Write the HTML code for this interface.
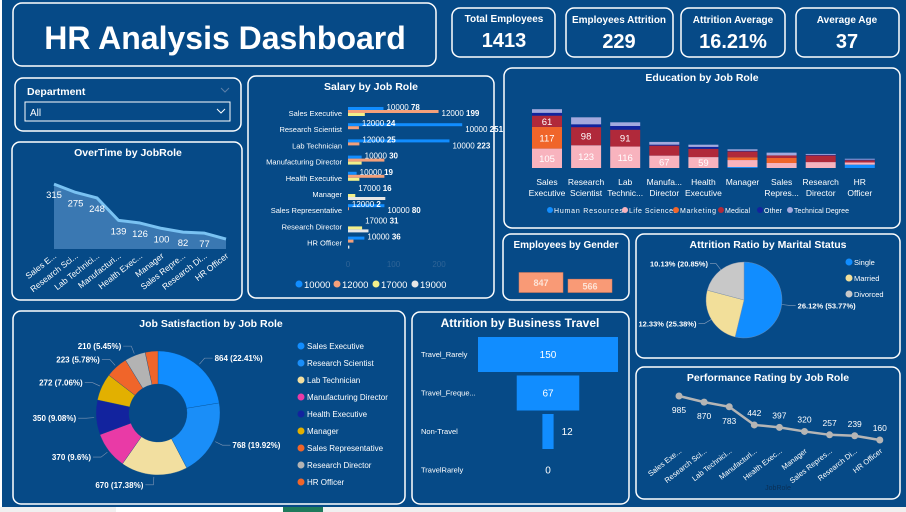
<!DOCTYPE html>
<html><head><meta charset="utf-8"><style>
html,body{margin:0;padding:0;background:#fff;}
svg{display:block;}
text{font-family:"Liberation Sans",sans-serif;fill:#fff;}
</style></head><body>
<svg id="s" width="906" height="512" viewBox="0 0 906 512">
<rect x="2" y="0" width="904" height="507" fill="#064a87"/>
<rect x="0" y="507" width="116" height="5" fill="#f0f0f0"/>
<rect x="117" y="507" width="166" height="5" fill="#ffffff"/>
<rect x="283" y="507" width="40" height="5" fill="#1f7a5c"/>
<rect x="323" y="507" width="583" height="5" fill="#f0f0f0"/>
<g fill="none" stroke="#fff" stroke-width="1.5">
<rect x="13" y="3" width="423" height="63" rx="9"/>
<rect x="452" y="8" width="103" height="49" rx="8"/>
<rect x="566" y="8" width="107" height="49" rx="8"/>
<rect x="681" y="8" width="104" height="49" rx="8"/>
<rect x="796" y="8" width="103" height="49" rx="8"/>
<rect x="15" y="78" width="226" height="53" rx="8"/>
<rect x="12" y="142" width="230" height="158" rx="8"/>
<rect x="248" y="76" width="246" height="222" rx="8"/>
<rect x="504" y="68" width="396" height="160" rx="8"/>
<rect x="503" y="234" width="126" height="66" rx="8"/>
<rect x="636" y="234" width="264" height="124" rx="8"/>
<rect x="13" y="311" width="392" height="193" rx="8"/>
<rect x="412" y="312" width="217" height="192" rx="8"/>
<rect x="636" y="367" width="264" height="132" rx="8"/>
</g>
<text x="225" y="49" font-size="32" font-weight="bold" text-anchor="middle">HR Analysis Dashboard</text>
<g font-weight="bold" text-anchor="middle">
<text x="504" y="22" font-size="10">Total Employees</text>
<text x="504" y="47" font-size="20">1413</text>
<text x="619" y="23" font-size="10">Employees Attrition</text>
<text x="619" y="48" font-size="20">229</text>
<text x="733" y="23" font-size="10">Attrition Average</text>
<text x="733" y="48" font-size="20">16.21%</text>
<text x="847" y="23" font-size="10">Average Age</text>
<text x="847" y="48" font-size="20">37</text>
</g>
<text x="27" y="95" font-size="10.5" font-weight="bold">Department</text>
<path d="M221 88 l4 4 l4 -4" fill="none" stroke="#5b7fa8" stroke-width="1"/>
<rect x="25" y="102" width="205" height="19" fill="none" stroke="#fff" stroke-width="1"/>
<text x="30" y="116" font-size="10">All</text>
<path d="M217 109 l4 4 l4 -4" fill="none" stroke="#fff" stroke-width="1"/>
<g font-weight="bold" text-anchor="middle">
<text x="128" y="156" font-size="10.5">OverTime by JobRole</text>
<text x="371" y="90" font-size="10.5">Salary by Job Role</text>
<text x="702" y="81" font-size="10.5">Education by Job Role</text>
<text x="566" y="248" font-size="10">Employees by Gender</text>
<text x="768" y="248" font-size="10.5">Attrition Ratio by Marital Status</text>
<text x="211" y="327" font-size="10.5">Job Satisfaction by Job Role</text>
<text x="520" y="327" font-size="12">Attrition by Business Travel</text>
<text x="768" y="381" font-size="10.5">Performance Rating by Job Role</text>
</g>
<g id="ot"></g><g id="sal"></g><g id="edu"></g><g id="gen"></g><g id="mar"></g><g id="js"></g><g id="trv"></g><g id="perf"></g>
</svg>
<script>
const NS='http://www.w3.org/2000/svg';
function mk(tag,attrs,parent,text){const e=document.createElementNS(NS,tag);for(const k in attrs)e.setAttribute(k,attrs[k]);if(text!=null)e.textContent=text;parent.appendChild(e);return e;}

// ---------- OverTime data ----------
const otRoles=['Sales E...','Research Sci...','Lab Technici...','Manufacturi...','Health Exec...','Manager','Sales Repre...','Research Di...','HR Officer'];
const otValues=[315,275,248,139,126,100,82,77,48];
// ---------- Salary data ----------
const salRoles=['Sales Executive','Research Scientist','Lab Technician','Manufacturing Director','Health Executive','Manager','Sales Representative','Research Director','HR Officer'];
const salSeries=['10000','12000','17000','19000'];
const sal10000=[78,251,223,30,19,0,80,0,36];
const sal12000=[199,24,25,80,80,0,2,0,12];
const sal17000=[37,0,0,30,25,16,0,31,0];
const sal19000=[0,0,0,0,0,82,0,45,3];
const salLabelSeries=[[0,1],[1,0],[1,0],[0],[0],[2],[1,0],[2],[0]];
const salTicks=[0,100,200];
// ---------- Education data ----------
const eduCats=['Sales\nExecutive','Research\nScientist','Lab\nTechnic...','Manufa...\nDirector','Health\nExecutive','Manager','Sales\nRepres...','Research\nDirector','HR\nOfficer'];
const eduFields=['Human Resources','Life Sciences','Marketing','Medical','Other','Technical Degree'];
const eduHR=[0,0,0,0,0,5,0,0,18];
const eduLife=[105,123,116,67,59,38,27,32,12];
const eduMkt=[117,0,0,0,0,15,27,0,0];
const eduMed=[61,98,91,54,45,32,14,36,12];
const eduOther=[15,15,20,5,10,3,0,3,3];
const eduTech=[20,38,20,15,12,8,15,5,5];
// ---------- Gender ----------
const genCats=['Male','Female'];
const genValues=[847,566];
// ---------- Marital ----------
const marCats=['Single','Married','Divorced'];
const marShare=[53.77,25.38,20.85];
const marLabels=['26.12% (53.77%)','12.33% (25.38%)','10.13% (20.85%)'];
// ---------- Job satisfaction ----------
const jsRoles=['Sales Executive','Research Scientist','Lab Technician','Manufacturing Director','Health Executive','Manager','Sales Representative','Research Director','HR Officer'];
const jsValues=[864,768,670,370,350,272,223,210,128];
// ---------- Travel ----------
const trvCats=['Travel_Rarely','Travel_Freque...','Non-Travel','TravelRarely'];
const trvValues=[150,67,12,0];
// ---------- Performance ----------
const perfRoles=['Sales Exe...','Research Sci...','Lab Technici...','Manufacturi...','Health Exec...','Manager','Sales Repres...','Research Di...','HR Officer'];
const perfValues=[985,870,783,442,397,320,257,239,160];

// ===== OverTime area =====
(function(){
const g=document.getElementById('ot');
const X=i=>54+i*21.5, Y=v=>249-v*0.206;
let d='M'+X(0)+' 249';otValues.forEach((v,i)=>d+=' L'+X(i)+' '+Y(v));d+=' L'+X(otValues.length-1)+' 249 Z';
const a=mk('path',{d:d,fill:'#3a78b2'},g);


let l='';otValues.forEach((v,i)=>l+=(i?' L':'M')+X(i)+' '+Y(v));
const ln=mk('path',{d:l,fill:'none',stroke:'#79c2f2','stroke-width':3,'stroke-linejoin':'round'},g);


otValues.forEach((v,i)=>{
 if(i<otValues.length-1){const t=mk('text',{x:X(i),y:Y(v)+14,'font-size':9.5,'text-anchor':'middle'},g,v);
 
 }
 const c=mk('text',{x:X(i)+3,y:257,'font-size':8.5,'text-anchor':'end',transform:'rotate(-38 '+(X(i)+3)+' 257)'},g,otRoles[i]);
 
 
});
})();

// ===== Salary bars =====
(function(){
const g=document.getElementById('sal');
const X=v=>348+v*0.455, RY=i=>113+i*16.2;
const series=[sal10000,sal12000,sal17000,sal19000];
const cols=['#118dff','#f4a07a','#f2ef8a','#e6e6e6'];
salRoles.forEach((r,i)=>{
 const yc=RY(i);
 const t=mk('text',{x:342,y:yc+3,'font-size':7.5,'text-anchor':'end'},g,r);
 
 
 series.forEach((s,k)=>{
  if(s[i]<=0)return;
  const b=mk('rect',{x:348,y:yc-6+k*3,width:s[i]*0.455,height:3,fill:cols[k]},g);
  
  
 });
 salLabelSeries[i].forEach((k,j)=>{
  const v=series[k][i];
  const tl=mk('text',{x:X(v)+3,y:yc-3+j*6,'font-size':8},g);
  
  
  mk('tspan',{},tl,salSeries[k]+' ');
  mk('tspan',{'font-weight':'bold'},tl,v);
 });
});
salTicks.forEach(v=>{const t=mk('text',{x:X(v),y:267,'font-size':8,'text-anchor':'middle',style:'fill:#2f6496'},g,v);
 
 });
const lx=[299,337,376,415];
salSeries.forEach((s,k)=>{
 const c=mk('circle',{cx:lx[k],cy:284,r:3.5,fill:cols[k]},g);
 
 
 const t=mk('text',{x:lx[k]+5,y:288,'font-size':9.5},g,s);
 
 
});
})();

// ===== Education stacked =====
(function(){
const g=document.getElementById('edu');
const CX=i=>547+i*39.1, H=v=>v*0.185, base=168;
const series=[eduHR,eduLife,eduMkt,eduMed,eduOther,eduTech];
const cols=['#118dff','#f8b3be','#f0652a','#b0293a','#12239e','#a3a9de'];
eduCats.forEach((c,i)=>{
 let y=base;
 series.forEach((s,k)=>{
  const h=H(s[i]);if(h<=0)return;
  y-=h;
  const r=mk('rect',{x:CX(i)-15,y:y,width:30,height:h,fill:cols[k]},g);
  
  
  if(s[i]>=58){const t=mk('text',{x:CX(i),y:y+h/2+3.5,'font-size':9.5,'text-anchor':'middle'},g,s[i]);
   
   }
 });
 c.split('\n').forEach((ln,j)=>{const t=mk('text',{x:CX(i),y:185+j*11,'font-size':8.5,'text-anchor':'middle'},g,ln);
  
  });
});
const lx=[550,625,676,721,760,790];
eduFields.forEach((f,k)=>{
 const c=mk('circle',{cx:lx[k],cy:210,r:3,fill:cols[k]},g);
 
 
 const t=mk('text',{x:lx[k]+4,y:213,'font-size':7,textLength:{0:69,1:48,2:36,3:25,4:18,5:55}[k]},g,f);
 
 
});
})();

// ===== Gender =====
(function(){
const g=document.getElementById('gen');
const xs=[519,568];
genValues.forEach((v,i)=>{
 const h=v*0.0236;
 const r=mk('rect',{x:xs[i],y:292.5-h,width:44,height:h,fill:'#f99a76',stroke:'#e07a55','stroke-width':0.5},g);
 
 
 const t=mk('text',{x:xs[i]+22,y:292.5-h/2+3.5,'font-size':9,'font-weight':'bold','text-anchor':'middle',style:'fill:#fde3d6'},g,v);
 
 
});
})();

// ===== Marital pie =====
(function(){
const g=document.getElementById('mar');
const cx=744,cy=300,R=38;const cols=['#118dff','#f2df9a','#c8c8c8'];
const tot=marShare.reduce((a,b)=>a+b,0);let a0=0;
const P=(a,r)=>[cx+r*Math.sin(a),cy-r*Math.cos(a)];
marShare.forEach((s,i)=>{
 const a1=a0+s/tot*2*Math.PI;const p0=P(a0,R),p1=P(a1,R);
 const p=mk('path',{d:`M${cx} ${cy} L${p0[0]} ${p0[1]} A${R} ${R} 0 ${a1-a0>Math.PI?1:0} 1 ${p1[0]} ${p1[1]} Z`,fill:cols[i],stroke:'#7a8ea8','stroke-width':0.4},g);
 
 
 const m=(a0+a1)/2;const q=P(m,R),q2=P(m,R+8);const right=Math.sin(m)>0;
 const ld=mk('path',{d:`M${q[0]} ${q[1]} L${q2[0]} ${q2[1]} L${q2[0]+(right?6:-6)} ${q2[1]}`,fill:'none',stroke:'#8aa0bd','stroke-width':0.6},g);
 
 
 const t=mk('text',{x:q2[0]+(right?8:-8),y:q2[1]+3,'font-size':7.5,'font-weight':'bold','text-anchor':right?'start':'end'},g,marLabels[i]);
 
 
 a0=a1;
});
marCats.forEach((c,i)=>{
 const m=mk('circle',{cx:849,cy:262+i*16,r:3.5,fill:cols[i]},g);
 
 
 const t=mk('text',{x:854,y:265+i*16,'font-size':7.5},g,c);
 
 
});
})();

// ===== Job satisfaction donut =====
(function(){
const g=document.getElementById('js');
const cx=158,cy=413,R=62,r=29;
const cols=['#118dff','#1a8ef8','#f2dfa0','#e93aa6','#12239e','#e2b000','#f0652a','#b3b3b3','#f0652a'];
const tot=jsValues.reduce((a,b)=>a+b,0);let a0=0;
const P=(a,rr)=>[cx+rr*Math.sin(a),cy-rr*Math.cos(a)];
jsValues.forEach((v,i)=>{
 const a1=a0+v/tot*2*Math.PI;const o0=P(a0,R),o1=P(a1,R),i1=P(a1,r),i0=P(a0,r);const lg=a1-a0>Math.PI?1:0;
 const p=mk('path',{d:`M${o0[0]} ${o0[1]} A${R} ${R} 0 ${lg} 1 ${o1[0]} ${o1[1]} L${i1[0]} ${i1[1]} A${r} ${r} 0 ${lg} 0 ${i0[0]} ${i0[1]} Z`,fill:cols[i],stroke:'#064a87','stroke-width':0.3},g);
 
 
 if(i<jsValues.length-1){
  const m=(a0+a1)/2,q=P(m,R+2),q2=P(m,R+10),right=Math.sin(m)>=0;
  const ld=mk('path',{d:`M${q[0]} ${q[1]} L${q2[0]} ${q2[1]} L${q2[0]+(right?8:-8)} ${q2[1]}`,fill:'none',stroke:'#7f96b5','stroke-width':0.6},g);
  
  
  const pct=(v/tot*100).toFixed(2).replace(/0$/,'');
  const t=mk('text',{x:q2[0]+(right?10:-10),y:q2[1]+3,'font-size':8,'font-weight':'bold','text-anchor':right?'start':'end'},g,v+' ('+pct+'%)');
  
  
 }
 a0=a1;
});
jsRoles.forEach((n,i)=>{
 const m=mk('circle',{cx:301,cy:346+i*17,r:3.5,fill:cols[i]},g);
 
 
 const t=mk('text',{x:307,y:349+i*17,'font-size':8},g,n);
 
 
});
})();

// ===== Travel funnel =====
(function(){
const g=document.getElementById('trv');
const cx=548,RY=i=>337+i*38.5;
const mx=Math.max(...trvValues);
trvValues.forEach((v,i)=>{
 const y=RY(i),w=v/mx*140;
 const c=mk('text',{x:421,y:y+20,'font-size':7.5},g,trvCats[i]);
 
 
 if(w>0){const r=mk('rect',{x:cx-w/2,y:y,width:w,height:35,fill:'#118dff'},g);
  
  }
 const inside=w>30;
 const t=mk('text',{x:inside||w===0?cx:cx+w/2+8,y:y+21,'font-size':10,'text-anchor':inside||w===0?'middle':'start'},g,v);
 
 
});
})();

// ===== Performance line =====
(function(){
const g=document.getElementById('perf');
const X=i=>679+i*25.1,Y=v=>448.5-v*0.0533;
let d='';perfValues.forEach((v,i)=>d+=(i?' L':'M')+X(i)+' '+Y(v));
const l=mk('path',{d:d,fill:'none',stroke:'#b5b5b5','stroke-width':2.5},g);


perfValues.forEach((v,i)=>{
 const c=mk('circle',{cx:X(i),cy:Y(v),r:3.5,fill:'#b5b5b5'},g);
 
 
 const t=mk('text',{x:X(i),y:i<3?Y(v)+17:Y(v)-9,'font-size':8.5,'text-anchor':'middle'},g,v);
 
 
 const xl=mk('text',{x:X(i)+3,y:452,'font-size':7.5,'text-anchor':'end',transform:'rotate(-38 '+(X(i)+3)+' 452)'},g,perfRoles[i]);
 
 
});
const at=mk('text',{x:778,y:490,'font-size':7,'text-anchor':'middle',style:'fill:#0a2f55'},g,'JobRole');


})();
</script>
</body></html>
